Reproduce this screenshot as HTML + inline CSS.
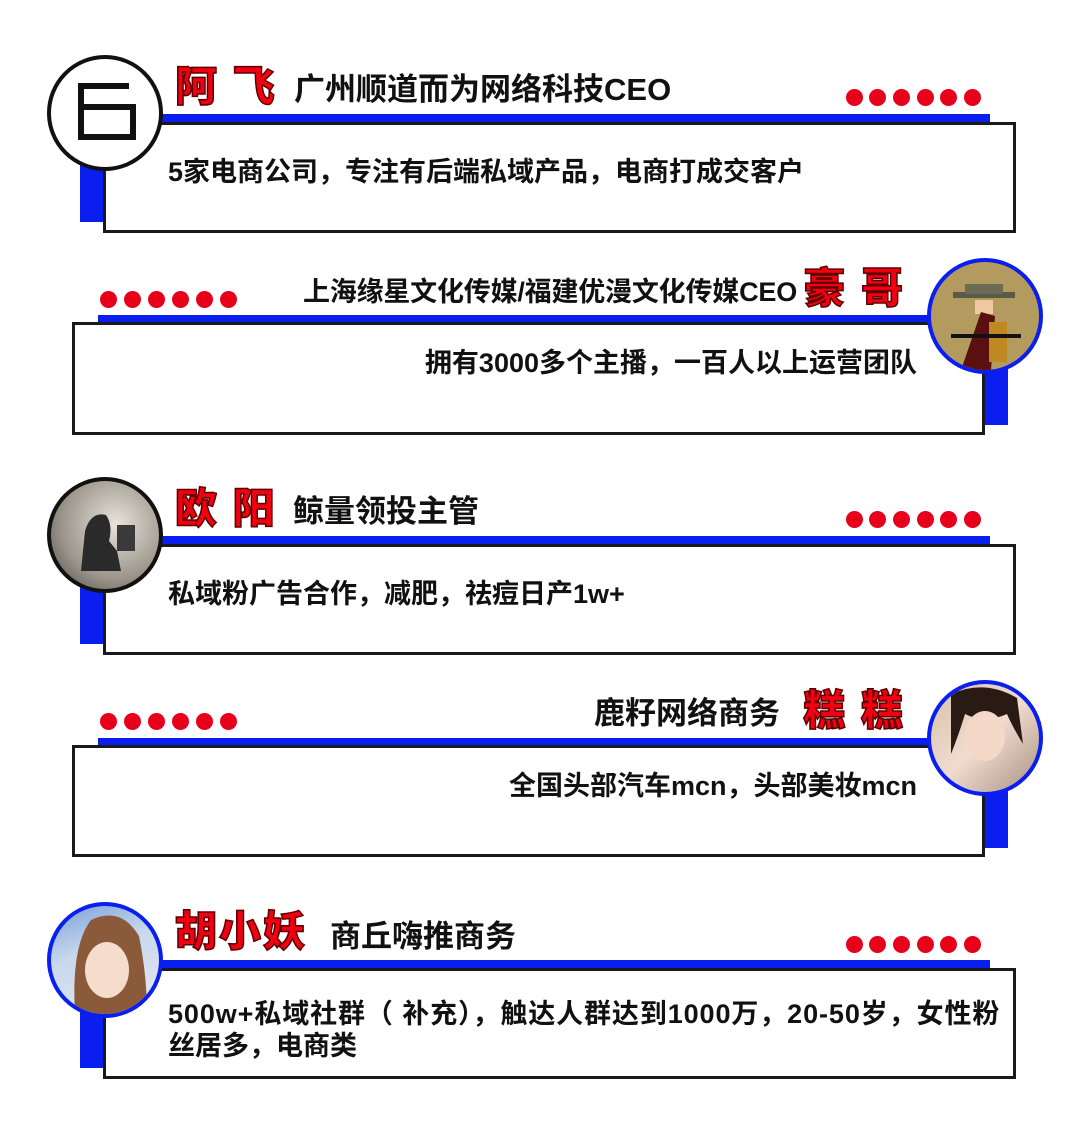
<!DOCTYPE html>
<html><head><meta charset="utf-8"><style>
*{margin:0;padding:0;box-sizing:border-box}
body{width:1088px;height:1126px;background:#fff;position:relative;overflow:hidden;font-family:"Liberation Sans","Noto Sans CJK SC",sans-serif}
div,span{position:absolute}
.box{border:3px solid #1a1a1a;background:#fff}
.blue{background:#0a1ef0}
.circ{border-radius:50%;border:4px solid #111;overflow:hidden;background:#fff}
.dot{width:17px;height:17px;border-radius:50%;background:#e8001a}
.name{font-size:42px;font-weight:900;color:#f00010;-webkit-text-stroke:1.5px #5a0000;white-space:nowrap;line-height:1;letter-spacing:2px}
.title{font-size:31px;font-weight:700;color:#111;white-space:nowrap;line-height:1}
.body{font-size:27px;font-weight:700;color:#111;line-height:32px;white-space:nowrap}
</style></head><body>

<!-- card 1 -->
<div class="blue" style="left:80px;top:165px;width:24px;height:57px"></div>
<div class="blue" style="left:160px;top:114px;width:830px;height:9px"></div>
<div class="box" style="left:103px;top:122px;width:913px;height:111px"></div>
<div class="circ" style="left:47px;top:55px;width:116px;height:116px">
<svg width="108" height="108" viewBox="0 0 108 108"><g fill="none" stroke="#111" stroke-width="6"><path d="M78 27 L30 27 L30 48 L78 48"/><rect x="30" y="48" width="52" height="30"/></g></svg></div>
<div class="name" style="left:175px;top:66px">阿 飞</div>
<div class="title" style="left:294px;top:74px">广州顺道而为网络科技CEO</div>
<div class="body" style="left:168px;top:156px">5家电商公司，专注有后端私域产品，电商打成交客户</div>

<!-- card 2 -->
<div class="blue" style="left:985px;top:360px;width:23px;height:65px"></div>
<div class="blue" style="left:98px;top:315px;width:832px;height:9px"></div>
<div class="box" style="left:72px;top:322px;width:913px;height:113px"></div>
<div class="circ" style="left:927px;top:258px;width:116px;height:116px;border-color:#0a1ef0;background:#b39b5f">
<svg width="108" height="108" viewBox="0 0 108 108"><rect x="22" y="30" width="62" height="6" fill="#5a5a48"/><rect x="34" y="22" width="38" height="10" fill="#6c6c55"/><rect x="44" y="38" width="18" height="14" fill="#f0c8a0"/><polygon points="30,108 50,50 64,54 60,108" fill="#5a1010"/><rect x="58" y="60" width="18" height="40" fill="#c08820"/><rect x="20" y="72" width="70" height="4" fill="#111"/></svg></div>
<div class="title" style="right:291px;top:279px;font-size:27px;letter-spacing:-0.2px">上海缘星文化传媒/福建优漫文化传媒CEO</div>
<div class="name" style="right:183px;top:268px">豪 哥</div>
<div class="body" style="right:171px;top:347px">拥有3000多个主播，一百人以上运营团队</div>

<!-- card 3 -->
<div class="blue" style="left:80px;top:587px;width:24px;height:57px"></div>
<div class="blue" style="left:160px;top:536px;width:830px;height:9px"></div>
<div class="box" style="left:103px;top:544px;width:913px;height:111px"></div>
<div class="circ" style="left:47px;top:477px;width:116px;height:116px;background:radial-gradient(circle at 60% 40%,#e8e4dc,#9a948a 60%,#4a4640)">
<svg width="108" height="108" viewBox="0 0 108 108"><path d="M30 90 L34 50 Q40 30 55 34 Q62 44 58 60 L66 70 L70 90 Z" fill="#2a2a2a"/><rect x="66" y="44" width="18" height="26" fill="#3a3a3a"/></svg></div>
<div class="name" style="left:175px;top:488px">欧 阳</div>
<div class="title" style="left:293px;top:496px">鲸量领投主管</div>
<div class="body" style="left:168px;top:578px">私域粉广告合作，减肥，祛痘日产1w+</div>

<!-- card 4 -->
<div class="blue" style="left:985px;top:783px;width:23px;height:65px"></div>
<div class="blue" style="left:98px;top:738px;width:832px;height:9px"></div>
<div class="box" style="left:72px;top:745px;width:913px;height:112px"></div>
<div class="circ" style="left:927px;top:680px;width:116px;height:116px;border-color:#0a1ef0;background:linear-gradient(135deg,#d8c0a8,#f0dcd0 50%,#a89080)">
<svg width="108" height="108" viewBox="0 0 108 108"><path d="M20 10 Q54 -5 86 14 L92 60 Q80 40 76 30 Q54 40 34 30 Q28 50 20 70 Z" fill="#2a1a14"/><ellipse cx="54" cy="52" rx="20" ry="25" fill="#f4d8c8"/></svg></div>
<div class="title" style="right:308px;top:698px">鹿籽网络商务</div>
<div class="name" style="right:183px;top:690px">糕 糕</div>
<div class="body" style="right:171px;top:770px">全国头部汽车mcn，头部美妆mcn</div>

<!-- card 5 -->
<div class="blue" style="left:80px;top:1011px;width:24px;height:57px"></div>
<div class="blue" style="left:160px;top:960px;width:830px;height:9px"></div>
<div class="box" style="left:103px;top:968px;width:913px;height:111px"></div>
<div class="circ" style="left:47px;top:902px;width:116px;height:116px;border-color:#0a1ef0;background:linear-gradient(160deg,#7aa0d8,#c8d8ec 40%,#e8e8f0)">
<svg width="108" height="108" viewBox="0 0 108 108"><path d="M24 108 Q20 40 40 14 Q70 0 88 30 Q96 70 96 108 Z" fill="#8a5a3a"/><ellipse cx="56" cy="64" rx="22" ry="28" fill="#f6dccc"/></svg></div>
<div class="name" style="left:175px;top:911px">胡小妖</div>
<div class="title" style="left:330px;top:921px">商丘嗨推商务</div>
<div class="body" style="left:168px;top:998px"><span style="position:static;letter-spacing:0.9px">500w+私域社群（ 补充），触达人群达到1000万，20-50岁，女性粉</span><br>丝居多，电商类</div>

<!-- dots -->
<div class="dot" style="left:846px;top:89px"></div><div class="dot" style="left:869px;top:89px"></div><div class="dot" style="left:893px;top:89px"></div><div class="dot" style="left:917px;top:89px"></div><div class="dot" style="left:940px;top:89px"></div><div class="dot" style="left:964px;top:89px"></div>
<div class="dot" style="left:100px;top:291px"></div><div class="dot" style="left:124px;top:291px"></div><div class="dot" style="left:148px;top:291px"></div><div class="dot" style="left:172px;top:291px"></div><div class="dot" style="left:196px;top:291px"></div><div class="dot" style="left:220px;top:291px"></div>
<div class="dot" style="left:846px;top:511px"></div><div class="dot" style="left:869px;top:511px"></div><div class="dot" style="left:893px;top:511px"></div><div class="dot" style="left:917px;top:511px"></div><div class="dot" style="left:940px;top:511px"></div><div class="dot" style="left:964px;top:511px"></div>
<div class="dot" style="left:100px;top:713px"></div><div class="dot" style="left:124px;top:713px"></div><div class="dot" style="left:148px;top:713px"></div><div class="dot" style="left:172px;top:713px"></div><div class="dot" style="left:196px;top:713px"></div><div class="dot" style="left:220px;top:713px"></div>
<div class="dot" style="left:846px;top:936px"></div><div class="dot" style="left:869px;top:936px"></div><div class="dot" style="left:893px;top:936px"></div><div class="dot" style="left:917px;top:936px"></div><div class="dot" style="left:940px;top:936px"></div><div class="dot" style="left:964px;top:936px"></div>
</body></html>
